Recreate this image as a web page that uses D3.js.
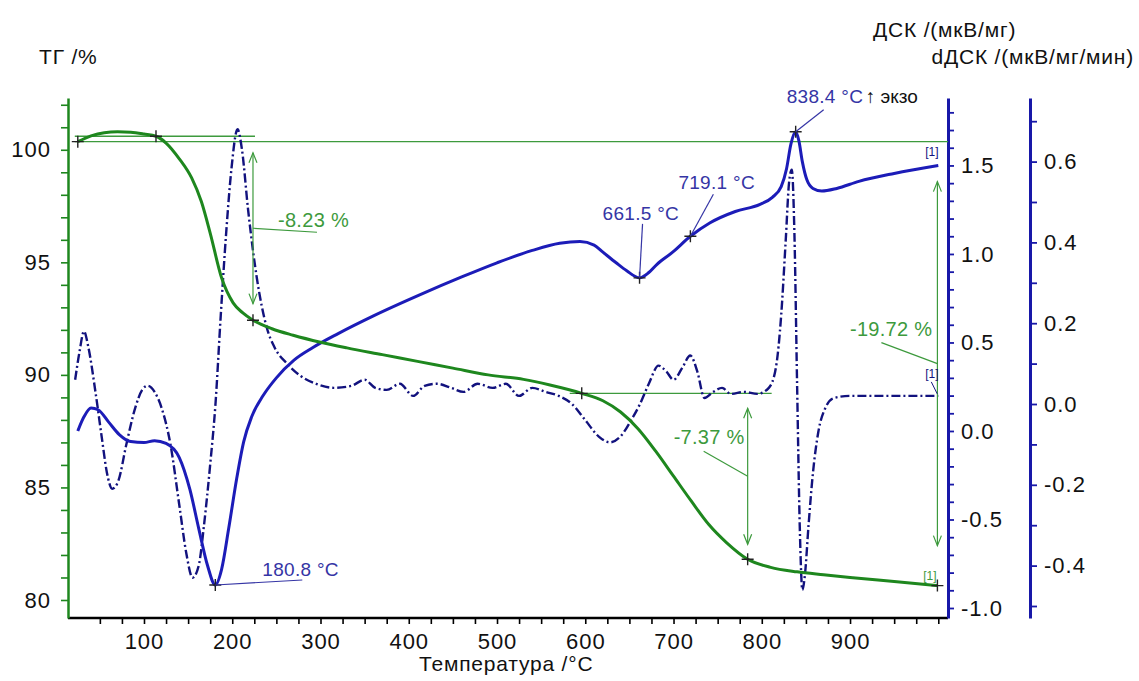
<!DOCTYPE html>
<html>
<head>
<meta charset="utf-8">
<script src="https://cdn.jsdelivr.net/npm/d3@7"></script>
<style>
  body { margin: 0; background: #fff; }
  text { font-family: Arial, "Liberation Sans", sans-serif; }
</style>
</head>
<body>
<div id="chart"></div>
<script>
// ---- data ----
// TG curve (%)
const tgT   = [25, 40, 55, 70, 85, 100, 113.6, 125, 140, 154, 165, 175, 188, 201, 212, 223.5, 245, 269, 300, 330, 370, 410, 450, 490, 530, 560, 596, 620, 640, 660, 680, 700, 720, 740, 760, 784, 810, 840, 870, 900, 950, 999]
const tgVal = [100.36, 100.62, 100.76, 100.8, 100.78, 100.7, 100.6, 100.3, 99.6, 98.75, 97.7, 96.3, 94.3, 93.2, 92.75, 92.43, 92.05, 91.76, 91.45, 91.2, 90.9, 90.6, 90.3, 90.0, 89.8, 89.55, 89.18, 88.85, 88.35, 87.6, 86.6, 85.5, 84.4, 83.35, 82.55, 81.81, 81.45, 81.25, 81.12, 81.0, 80.82, 80.64]

// DSC curve (мкВ/мг)
const dscT   = [25, 32, 40, 48, 60, 72, 85, 100, 112, 125, 140, 152, 162, 172, 180.8, 188, 196, 205, 213, 222, 235, 250, 270, 291, 320, 360, 413, 460, 500, 540, 571, 594, 610, 620, 635, 647, 661.5, 672, 681, 699, 719.1, 741, 770, 798, 812, 822, 828, 833, 838.4, 842, 846, 851, 858, 868, 885, 910, 950, 1000]
const dscVal = [0.0, 0.08, 0.13, 0.12, 0.05, -0.02, -0.06, -0.065, -0.055, -0.07, -0.15, -0.33, -0.55, -0.76, -0.87, -0.78, -0.55, -0.27, -0.06, 0.08, 0.2, 0.3, 0.4, 0.47, 0.55, 0.65, 0.77, 0.87, 0.95, 1.02, 1.06, 1.07, 1.05, 1.01, 0.95, 0.905, 0.865, 0.895, 0.94, 1.01, 1.10, 1.175, 1.24, 1.28, 1.32, 1.38, 1.48, 1.62, 1.69, 1.64, 1.52, 1.42, 1.37, 1.355, 1.37, 1.41, 1.455, 1.50]

// dDSC curve (мкВ/мг/мин)
const ddscT   = [22, 27, 32, 37, 45, 52, 58, 64, 71, 80, 90, 98, 104, 112, 120, 130, 140, 148, 155, 162, 168, 175, 181, 187, 193, 199, 206, 211, 218, 228, 239, 248, 262, 277, 295, 315, 335, 350, 362, 375, 390, 405, 418, 432, 448, 462, 478, 495, 510, 525, 540, 555, 570, 585, 600, 615, 628, 640, 652, 662, 672, 683, 692, 700, 710, 719, 727, 735, 745, 755, 765, 780, 795, 808, 816, 822, 827, 831, 834, 837, 840, 843, 846, 849, 853, 858, 864, 872, 882, 900, 950, 1000]
const ddscVal = [0.06, 0.13, 0.18, 0.14, 0.03, -0.08, -0.17, -0.21, -0.19, -0.1, -0.01, 0.035, 0.045, 0.03, -0.01, -0.1, -0.25, -0.37, -0.43, -0.4, -0.3, -0.15, 0.0, 0.22, 0.42, 0.58, 0.68, 0.63, 0.48, 0.31, 0.19, 0.14, 0.1, 0.07, 0.05, 0.04, 0.045, 0.06, 0.04, 0.035, 0.05, 0.02, 0.045, 0.05, 0.04, 0.03, 0.05, 0.04, 0.05, 0.02, 0.04, 0.03, 0.02, 0.0, -0.04, -0.08, -0.095, -0.08, -0.04, 0.0, 0.05, 0.095, 0.08, 0.06, 0.09, 0.12, 0.08, 0.015, 0.03, 0.04, 0.025, 0.03, 0.025, 0.04, 0.09, 0.22, 0.4, 0.55, 0.58, 0.42, 0.05, -0.3, -0.46, -0.42, -0.3, -0.17, -0.07, -0.01, 0.015, 0.02, 0.02, 0.02]

// peak labels on DSC
const peakT      = [180.8, 661.5, 719.1, 838.4]
const peakVal    = [-0.87, 0.865, 1.10, 1.69]
const peakLabels = ["180.8 °C", "661.5 °C", "719.1 °C", "838.4 °C"]

// mass steps on TG
const stepFromT   = [113.6, 596, 25]
const stepFromVal = [100.6, 89.18, 100.36]
const stepToT     = [223.5, 784, 999]
const stepToVal   = [92.43, 81.81, 80.64]
const stepLabels  = ["-8.23 %", "-7.37 %", "-19.72 %"]

// tick labels
const xTickLabels    = [100, 200, 300, 400, 500, 600, 700, 800, 900]
const tgTickLabels   = [80, 85, 90, 95, 100]
const dscTickLabels  = [-1.0, -0.5, 0.0, 0.5, 1.0, 1.5]
const ddscTickLabels = [-0.4, -0.2, 0.0, 0.2, 0.4, 0.6]

// ---- layout ----
const width = 1139
const height = 681
const mLeft = 68, mRight = 948, mTop = 98, mBottom = 618

const green = "#1e871e"
const greenThin = "#3d9a3d"
const blue = "#1c1cb8"
const navy = "#12127e"
const axisBlue = "#1818a8"
const labelBlue = "#3535a5"

const svg = d3.select("#chart")
  .append("svg")
    .attr("width", width)
    .attr("height", height)

const x = d3.scaleLinear().domain([13.9, 1011]).range([mLeft, mRight])
const yTg = d3.scaleLinear().domain([79.2, 102.3]).range([mBottom, mTop])
const yDsc = d3.scaleLinear().domain([-1.0565, 1.881]).range([mBottom, mTop])
const yDdsc = d3.scaleLinear().domain([-0.5297, 0.7574]).range([mBottom, mTop])

// ---- axes ----
const fmt1 = d => d.toFixed(1)
const near = (a, list) => list.some(v => Math.abs(v - a) < 1e-6)

const xAxis = svg.append("g")
  .attr("transform", `translate(0,${mBottom})`)
  .call(d3.axisBottom(x)
    .tickValues(d3.range(50, 1001, 25))
    .tickFormat(d => near(d, xTickLabels) ? d : "")
    .tickSize(6).tickSizeOuter(0).tickPadding(9))
xAxis.select(".domain").attr("stroke", "#000").attr("stroke-width", 2.5)
  .attr("d", `M${mLeft},0H${mRight}`)
xAxis.selectAll(".tick line").attr("stroke", "#000").attr("stroke-width", 1.6)

const tgAxis = svg.append("g")
  .attr("transform", `translate(${mLeft},0)`)
  .call(d3.axisLeft(yTg)
    .tickValues(d3.range(80, 103, 1))
    .tickFormat(d => near(d, tgTickLabels) ? d : "")
    .tickSize(7).tickSizeOuter(0).tickPadding(10))
tgAxis.select(".domain").attr("stroke", green).attr("stroke-width", 2.5)
tgAxis.selectAll(".tick line").attr("stroke", green).attr("stroke-width", 1.6)

const dscAxis = svg.append("g")
  .attr("transform", `translate(${mRight},0)`)
  .call(d3.axisRight(yDsc)
    .tickValues(d3.range(-10, 19).map(d => d / 10))
    .tickFormat(d => near(d, dscTickLabels) ? fmt1(d) : "")
    .tickSize(6).tickSizeOuter(0).tickPadding(7))
dscAxis.select(".domain").attr("stroke", axisBlue).attr("stroke-width", 3)
dscAxis.selectAll(".tick line").attr("stroke", axisBlue).attr("stroke-width", 1.8)

const ddscAxis = svg.append("g")
  .attr("transform", `translate(1030,0)`)
  .call(d3.axisRight(yDdsc)
    .tickValues(d3.range(-5, 8).map(d => d / 10))
    .tickFormat(d => near(d, ddscTickLabels) ? fmt1(d) : "")
    .tickSize(7).tickSizeOuter(0).tickPadding(7))
ddscAxis.select(".domain").attr("stroke", axisBlue).attr("stroke-width", 3)
ddscAxis.selectAll(".tick line").attr("stroke", axisBlue).attr("stroke-width", 1.8)

svg.selectAll(".tick text")
  .attr("font-size", 22)
  .attr("fill", "#111")
  .style("letter-spacing", "1px")
  .style("font-family", "Arial, 'Liberation Sans', sans-serif")

// axis titles
const title = (tx, ty, s, anchor = "start") => svg.append("text")
  .attr("x", tx).attr("y", ty).attr("font-size", 21)
  .attr("text-anchor", anchor).style("letter-spacing", "0.8px")
  .attr("fill", "#111").text(s)
title(39, 64, "ТГ /%")
title(873, 37, "ДСК /(мкВ/мг)")
title(1134, 64, "dДСК /(мкВ/мг/мин)", "end")
title(419, 671, "Температура /°C")

// ---- helpers ----
const plot = svg.append("g")

function cross(cx, cy, color, s = 6) {
  plot.append("path")
    .attr("d", `M${cx - s},${cy}H${cx + s}M${cx},${cy - s}V${cy + s}`)
    .attr("stroke", color).attr("stroke-width", 1.4).attr("fill", "none")
}

function arrow(ax, y1, y2, color) {
  const g = plot.append("g").attr("stroke", color).attr("stroke-width", 1.2).attr("fill", "none")
  g.append("line").attr("x1", ax).attr("x2", ax).attr("y1", y1).attr("y2", y2)
  g.append("path").attr("d", `M${ax - 4},${y1 + 10}L${ax},${y1}L${ax + 4},${y1 + 10}`)
  g.append("path").attr("d", `M${ax - 4},${y2 - 10}L${ax},${y2}L${ax + 4},${y2 - 10}`)
}

// ---- reference lines of the mass steps ----
const hl = plot.append("g").attr("stroke", greenThin).attr("stroke-width", 1.3)
hl.append("line")
  .attr("x1", x(stepFromT[2]) - 3).attr("x2", mRight)
  .attr("y1", yTg(stepFromVal[2])).attr("y2", yTg(stepFromVal[2]))
hl.append("line")
  .attr("x1", x(stepFromT[2]) - 3).attr("x2", x(stepToT[0]) + 2)
  .attr("y1", yTg(stepFromVal[0])).attr("y2", yTg(stepFromVal[0]))
hl.append("line")
  .attr("x1", x(stepFromT[1]) - 12).attr("x2", x(stepToT[1]) + 24)
  .attr("y1", yTg(stepFromVal[1])).attr("y2", yTg(stepFromVal[1]))

// ---- curves ----
const line = (xs, ys, yScale) => d3.line()
  .x((d, i) => x(xs[i]))
  .y((d, i) => yScale(ys[i]))
  .curve(d3.curveMonotoneX)(xs)

plot.append("path")
  .attr("d", line(ddscT, ddscVal, yDdsc))
  .attr("fill", "none").attr("stroke", navy).attr("stroke-width", 2.4)
  .attr("stroke-dasharray", "9,3,2,3")

plot.append("path")
  .attr("d", line(dscT, dscVal, yDsc))
  .attr("fill", "none").attr("stroke", blue).attr("stroke-width", 3)

plot.append("path")
  .attr("d", line(tgT, tgVal, yTg))
  .attr("fill", "none").attr("stroke", green).attr("stroke-width", 3)

// ---- mass step annotations ----
stepLabels.forEach((lab, i) => {
  const ax = x(stepToT[i])
  const y1 = yTg(stepFromVal[i]), y2 = yTg(stepToVal[i])
  const inset = (y2 - y1) * 0.09
  arrow(ax, y1 + inset, y2 - inset, greenThin)
  cross(x(stepFromT[i]), y1, "#222")
  cross(ax, y2, "#222")
  const mid = (y1 + y2) / 2
  const t = plot.append("text").attr("font-size", 20).attr("fill", greenThin)
    .style("letter-spacing", "0.3px").text(lab)
  if (i === 0) {
    plot.append("path").attr("d", `M${ax},${mid}L${ax + 64},${mid + 4}`)
      .attr("stroke", greenThin).attr("stroke-width", 1.2)
    t.attr("x", ax + 25).attr("y", mid - 1)
  } else if (i === 1) {
    plot.append("path").attr("d", `M${ax},${mid}L${ax - 44},${mid - 25}`)
      .attr("stroke", greenThin).attr("stroke-width", 1.2)
    t.attr("x", ax - 3).attr("y", mid - 32).attr("text-anchor", "end")
  } else {
    plot.append("path").attr("d", `M${ax},${mid}L${ax - 56},${mid - 21}`)
      .attr("stroke", greenThin).attr("stroke-width", 1.2)
    t.attr("x", ax - 5).attr("y", mid - 28).attr("text-anchor", "end")
  }
})

// ---- DSC peak annotations ----
const peakOffsets = [
  { lx: 87, ly: -5, tx: 47, ty: -9 },
  { lx: 3, ly: -54, tx: -37, ty: -58 },
  { lx: 23, ly: -42, tx: -12, ty: -47 },
  { lx: 28, ly: -22, tx: -9, ty: -29 }
]
peakT.forEach((t, i) => {
  const px = x(t), py = yDsc(peakVal[i])
  const o = peakOffsets[i]
  cross(px, py, "#222")
  plot.append("line")
    .attr("x1", px).attr("y1", py).attr("x2", px + o.lx).attr("y2", py + o.ly)
    .attr("stroke", labelBlue).attr("stroke-width", 1.2)
  plot.append("text")
    .attr("x", px + o.tx).attr("y", py + o.ty)
    .attr("font-size", 19).attr("fill", labelBlue)
    .style("letter-spacing", "0.3px")
    .text(peakLabels[i])
})
// exo mark
plot.append("text").attr("x", x(838.4) + 70).attr("y", yDsc(1.69) - 29)
  .attr("font-size", 19).attr("fill", "#111").text("↑ экзо")

// ---- end markers [1] ----
const endT = 1000
plot.append("text").attr("x", x(endT) - 13).attr("y", yDsc(dscVal[dscVal.length - 1]) - 9)
  .attr("font-size", 12).attr("fill", navy).text("[1]")
plot.append("text").attr("x", x(endT) - 13).attr("y", yDdsc(ddscVal[ddscVal.length - 1]) - 18)
  .attr("font-size", 12).attr("fill", navy).text("[1]")
plot.append("line")
  .attr("x1", x(endT) - 7).attr("y1", yDdsc(ddscVal[ddscVal.length - 1]) - 14)
  .attr("x2", x(endT) - 1).attr("y2", yDdsc(ddscVal[ddscVal.length - 1]) - 2)
  .attr("stroke", navy).attr("stroke-width", 1)
plot.append("text").attr("x", x(endT) - 15).attr("y", yTg(tgVal[tgVal.length - 1]) - 6)
  .attr("font-size", 12).attr("fill", greenThin).text("[1]")
</script>
</body>
</html>
